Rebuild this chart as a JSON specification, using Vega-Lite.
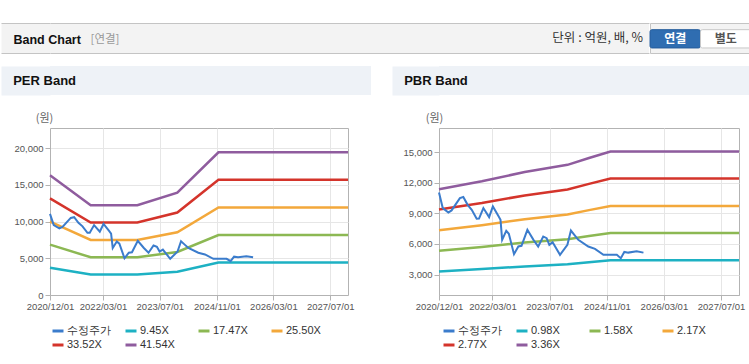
{
  "$schema": "https://vega.github.io/schema/vega-lite/v6.json",
  "background": "#ffffff",
  "padding": {"left": 0, "top": 22, "right": 0, "bottom": 0},
  "config": {
    "view": {"stroke": null},
    "font": "Liberation Sans",
    "axis": {"labelFont": "Liberation Sans", "titleFont": "Noto Sans CJK KR"},
    "legend": {"labelFont": "Liberation Sans"}
  },
  "datasets": {
    "price": [
      {"date": "2020-12-01", "series": "수정주가", "value": 11040},
      {"date": "2021-01-02", "series": "수정주가", "value": 9510},
      {"date": "2021-02-19", "series": "수정주가", "value": 9080},
      {"date": "2021-03-18", "series": "수정주가", "value": 9280},
      {"date": "2021-05-28", "series": "수정주가", "value": 10490},
      {"date": "2021-06-26", "series": "수정주가", "value": 10590},
      {"date": "2021-08-02", "series": "수정주가", "value": 9830},
      {"date": "2021-09-06", "series": "수정주가", "value": 9345},
      {"date": "2021-10-18", "series": "수정주가", "value": 8460},
      {"date": "2021-11-07", "series": "수정주가", "value": 8480},
      {"date": "2021-12-14", "series": "수정주가", "value": 9510},
      {"date": "2022-02-01", "series": "수정주가", "value": 8625},
      {"date": "2022-03-05", "series": "수정주가", "value": 9670},
      {"date": "2022-04-20", "series": "수정주가", "value": 8755},
      {"date": "2022-05-09", "series": "수정주가", "value": 8360},
      {"date": "2022-05-23", "series": "수정주가", "value": 6400},
      {"date": "2022-06-27", "series": "수정주가", "value": 7280},
      {"date": "2022-07-19", "series": "수정주가", "value": 6990},
      {"date": "2022-09-01", "series": "수정주가", "value": 5000},
      {"date": "2022-10-08", "series": "수정주가", "value": 5750},
      {"date": "2022-11-04", "series": "수정주가", "value": 5815},
      {"date": "2022-12-24", "series": "수정주가", "value": 7380},
      {"date": "2023-02-14", "series": "수정주가", "value": 6400},
      {"date": "2023-03-26", "series": "수정주가", "value": 5750},
      {"date": "2023-05-08", "series": "수정주가", "value": 6730},
      {"date": "2023-06-06", "series": "수정주가", "value": 6560},
      {"date": "2023-06-29", "series": "수정주가", "value": 5910},
      {"date": "2023-07-27", "series": "수정주가", "value": 6170},
      {"date": "2023-09-28", "series": "수정주가", "value": 4930},
      {"date": "2023-11-30", "series": "수정주가", "value": 5910},
      {"date": "2023-12-30", "series": "수정주가", "value": 7310},
      {"date": "2024-01-28", "series": "수정주가", "value": 6890},
      {"date": "2024-03-02", "series": "수정주가", "value": 6400},
      {"date": "2024-05-26", "series": "수정주가", "value": 5750},
      {"date": "2024-07-22", "series": "수정주가", "value": 5520},
      {"date": "2024-10-02", "series": "수정주가", "value": 4930},
      {"date": "2025-01-24", "series": "수정주가", "value": 4930},
      {"date": "2025-02-27", "series": "수정주가", "value": 4600},
      {"date": "2025-03-29", "series": "수정주가", "value": 5220},
      {"date": "2025-05-02", "series": "수정주가", "value": 5150},
      {"date": "2025-07-12", "series": "수정주가", "value": 5280},
      {"date": "2025-09-08", "series": "수정주가", "value": 5150}
    ],
    "perBands": [
      {"date": "2020-12-01", "series": "9.45X", "value": 3704},
      {"date": "2021-11-15", "series": "9.45X", "value": 2778},
      {"date": "2022-12-20", "series": "9.45X", "value": 2778},
      {"date": "2023-11-28", "series": "9.45X", "value": 3166},
      {"date": "2024-11-15", "series": "9.45X", "value": 4418},
      {"date": "2027-12-01", "series": "9.45X", "value": 4418},
      {"date": "2020-12-01", "series": "17.47X", "value": 6848},
      {"date": "2021-11-15", "series": "17.47X", "value": 5136},
      {"date": "2022-12-20", "series": "17.47X", "value": 5136},
      {"date": "2023-11-28", "series": "17.47X", "value": 5852},
      {"date": "2024-11-15", "series": "17.47X", "value": 8167},
      {"date": "2027-12-01", "series": "17.47X", "value": 8167},
      {"date": "2020-12-01", "series": "25.50X", "value": 9996},
      {"date": "2021-11-15", "series": "25.50X", "value": 7497},
      {"date": "2022-12-20", "series": "25.50X", "value": 7497},
      {"date": "2023-11-28", "series": "25.50X", "value": 8543},
      {"date": "2024-11-15", "series": "25.50X", "value": 11921},
      {"date": "2027-12-01", "series": "25.50X", "value": 11921},
      {"date": "2020-12-01", "series": "33.52X", "value": 13140},
      {"date": "2021-11-15", "series": "33.52X", "value": 9855},
      {"date": "2022-12-20", "series": "33.52X", "value": 9855},
      {"date": "2023-11-28", "series": "33.52X", "value": 11229},
      {"date": "2024-11-15", "series": "33.52X", "value": 15671},
      {"date": "2027-12-01", "series": "33.52X", "value": 15671},
      {"date": "2020-12-01", "series": "41.54X", "value": 16284},
      {"date": "2021-11-15", "series": "41.54X", "value": 12213},
      {"date": "2022-12-20", "series": "41.54X", "value": 12213},
      {"date": "2023-11-28", "series": "41.54X", "value": 13916},
      {"date": "2024-11-15", "series": "41.54X", "value": 19420},
      {"date": "2027-12-01", "series": "41.54X", "value": 19420}
    ],
    "pbrBands": [
      {"date": "2020-12-01", "series": "0.98X", "value": 3312},
      {"date": "2021-12-01", "series": "0.98X", "value": 3540},
      {"date": "2022-12-01", "series": "0.98X", "value": 3802},
      {"date": "2023-12-01", "series": "0.98X", "value": 4008},
      {"date": "2024-06-01", "series": "0.98X", "value": 4204},
      {"date": "2024-12-01", "series": "0.98X", "value": 4390},
      {"date": "2027-12-01", "series": "0.98X", "value": 4390},
      {"date": "2020-12-01", "series": "1.58X", "value": 5340},
      {"date": "2021-12-01", "series": "1.58X", "value": 5707},
      {"date": "2022-12-01", "series": "1.58X", "value": 6130},
      {"date": "2023-12-01", "series": "1.58X", "value": 6462},
      {"date": "2024-06-01", "series": "1.58X", "value": 6778},
      {"date": "2024-12-01", "series": "1.58X", "value": 7078},
      {"date": "2027-12-01", "series": "1.58X", "value": 7078},
      {"date": "2020-12-01", "series": "2.17X", "value": 7335},
      {"date": "2021-12-01", "series": "2.17X", "value": 7838},
      {"date": "2022-12-01", "series": "2.17X", "value": 8420},
      {"date": "2023-12-01", "series": "2.17X", "value": 8875},
      {"date": "2024-06-01", "series": "2.17X", "value": 9309},
      {"date": "2024-12-01", "series": "2.17X", "value": 9722},
      {"date": "2027-12-01", "series": "2.17X", "value": 9722},
      {"date": "2020-12-01", "series": "2.77X", "value": 9363},
      {"date": "2021-12-01", "series": "2.77X", "value": 10005},
      {"date": "2022-12-01", "series": "2.77X", "value": 10748},
      {"date": "2023-12-01", "series": "2.77X", "value": 11329},
      {"date": "2024-06-01", "series": "2.77X", "value": 11883},
      {"date": "2024-12-01", "series": "2.77X", "value": 12410},
      {"date": "2027-12-01", "series": "2.77X", "value": 12410},
      {"date": "2020-12-01", "series": "3.36X", "value": 11357},
      {"date": "2021-12-01", "series": "3.36X", "value": 12136},
      {"date": "2022-12-01", "series": "3.36X", "value": 13037},
      {"date": "2023-12-01", "series": "3.36X", "value": 13742},
      {"date": "2024-06-01", "series": "3.36X", "value": 14414},
      {"date": "2024-12-01", "series": "3.36X", "value": 15053},
      {"date": "2027-12-01", "series": "3.36X", "value": 15053}
    ]
  },
  "resolve": {"scale": {"color": "independent", "x": "independent", "y": "independent"}, "legend": {"color": "independent"}},
  "spacing": 12,
  "vconcat": [
    {
      "spacing": 0,
      "resolve": {"scale": {"color": "independent", "x": "independent", "y": "independent"}},
      "hconcat": [
        {
          "width": 599,
          "height": 30,
          "view": {"fill": "#f3f3f3", "stroke": null},
          "data": {"values": [{"unit": "단위 : 억원, 배, %"}]},
          "resolve": {"scale": {"y": "independent"}, "axis": {"y": "independent"}},
          "encoding": {
            "x": {"datum": 1, "type": "quantitative", "scale": {"domain": [0, 1], "nice": false, "zero": false}, "axis": null}
          },
          "layer": [
            {
              "mark": {"type": "text", "align": "right", "dx": -6, "fontSize": 12.5, "color": "#333333", "font": "Noto Sans CJK KR"},
              "encoding": {
                "text": {"field": "unit"},
                "y": {"datum": "a", "type": "nominal", "axis": {"orient": "left", "offset": 24.5, "minExtent": 24.5, "maxExtent": 24.5, "domain": true, "domainColor": "#f3f3f3", "domainWidth": 49, "domainCap": "butt", "ticks": false, "labels": false, "grid": false,
                  "title": "Band Chart", "titleAngle": 0, "titleX": -12.5, "titleY": 16, "titleAlign": "left", "titleBaseline": "middle", "titleFont": "Liberation Sans", "titleFontSize": 12.5, "titleFontWeight": "bold", "titleColor": "#111111"}}
              }
            },
            {
              "mark": {"type": "text", "opacity": 0},
              "encoding": {
                "text": {"value": ""},
                "y": {"datum": "b", "type": "nominal", "scale": {"type": "band", "paddingInner": 0, "paddingOuter": 0}, "axis": {"orient": "left", "minExtent": 49, "maxExtent": 49, "domain": false, "ticks": true, "tickBand": "extent", "tickSize": 49, "tickColor": "#c4c4c4", "tickWidth": 1, "labels": false, "grid": true, "gridColor": "#c4c4c4", "gridWidth": 1,
                  "title": "[연결]", "titleAngle": 0, "titleX": 40, "titleY": 16, "titleAlign": "left", "titleBaseline": "middle", "titleFont": "Noto Sans CJK KR", "titleFontSize": 11.5, "titleFontWeight": "normal", "titleColor": "#999999"}}
              }
            }
          ]
        },
        {
          "width": 101,
          "height": 30,
          "view": {"fill": "#f3f3f3", "stroke": "#c4c4c4"},
          "data": {"values": [{"btn": "연결", "state": "on"}, {"btn": "별도", "state": "off"}]},
          "encoding": {
            "x": {"field": "btn", "type": "nominal", "sort": null, "scale": {"domain": ["연결", "별도"], "paddingInner": 0, "paddingOuter": 0}, "axis": null},
            "y": {"datum": "toggle", "type": "nominal", "scale": {"paddingInner": 0, "paddingOuter": 0.32, "align": 0.57}, "axis": null}
          },
          "layer": [
            {
              "mark": {"type": "rect", "cornerRadius": 2, "strokeWidth": 1},
              "encoding": {
                "fill": {"field": "state", "type": "nominal", "scale": {"domain": ["on", "off"], "range": ["#2f6db1", "#ffffff"]}, "legend": null},
                "stroke": {"field": "state", "type": "nominal", "scale": {"domain": ["on", "off"], "range": ["#265d9c", "#c8c8c8"]}, "legend": null}
              }
            },
            {
              "mark": {"type": "text", "fontSize": 12, "fontWeight": "bold", "font": "Noto Sans CJK KR"},
              "encoding": {
                "text": {"field": "btn"},
                "color": {"field": "state", "type": "nominal", "scale": {"domain": ["on", "off"], "range": ["#ffffff", "#555555"]}, "legend": null}
              }
            }
          ]
        }
      ]
    },
    {
      "spacing": 20,
      "resolve": {"scale": {"color": "independent", "x": "independent", "y": "independent"}, "legend": {"color": "independent"}},
      "hconcat": [
        {
          "spacing": 16,
          "resolve": {"scale": {"color": "independent", "y": "independent"}, "legend": {"color": "independent"}},
          "vconcat": [
            {
              "width": 321,
              "height": 29,
              "view": {"fill": "#eef2f7", "stroke": null},
              "data": {"values": [{"k": "s"}]},
              "mark": {"type": "text", "opacity": 0},
              "encoding": {
                "text": {"value": ""},
                "y": {"field": "k", "type": "nominal", "axis": {"orient": "left", "offset": 24.5, "minExtent": 24.5, "maxExtent": 24.5, "domain": true, "domainColor": "#eef2f7", "domainWidth": 49, "domainCap": "butt", "ticks": false, "labels": false, "grid": false,
                  "title": "PER Band", "titleAngle": 0, "titleX": -12.8, "titleY": 14.5, "titleAlign": "left", "titleBaseline": "middle", "titleFont": "Liberation Sans", "titleFontSize": 13, "titleFontWeight": "bold", "titleColor": "#111111"}}
              }
            },
            {
              "width": 298,
              "height": 167,
              "view": {"fill": "#ffffff", "stroke": "#b3b3b3"},
              "encoding": {
                "x": {"field": "date", "type": "temporal",
                  "scale": {"type": "utc", "nice": false, "domain": [{"year": 2020, "month": 12, "date": 1, "utc": true}, {"year": 2027, "month": 12, "date": 1, "utc": true}]},
                  "axis": {"title": null, "format": "%Y/%m/%d", "grid": true, "gridColor": "#e6e6e6", "domainColor": "#b3b3b3", "tickColor": "#b3b3b3", "tickSize": 5, "labelPadding": 1, "labelFontSize": 9.5, "labelColor": "#555555", "labelOverlap": false, "labelFlush": false,
                    "values": [{"year": 2020, "month": 12, "date": 1, "utc": true}, {"year": 2022, "month": 3, "date": 1, "utc": true}, {"year": 2023, "month": 7, "date": 1, "utc": true}, {"year": 2024, "month": 11, "date": 1, "utc": true}, {"year": 2026, "month": 3, "date": 1, "utc": true}, {"year": 2027, "month": 7, "date": 1, "utc": true}]}},
                "y": {"field": "value", "type": "quantitative",
                  "scale": {"domain": [0, 22727], "nice": false},
                  "axis": {"values": [0, 5000, 10000, 15000, 20000], "format": ",d", "grid": true, "gridColor": "#e6e6e6", "domainColor": "#b3b3b3", "tickColor": "#b3b3b3", "tickSize": 5, "labelPadding": 2, "labelFontSize": 9.5, "labelColor": "#555555", "minExtent": 49, "maxExtent": 49,
                    "title": "(원)", "titleAngle": 0, "titleX": -6, "titleY": -10, "titleAlign": "center", "titleBaseline": "middle", "titleFontSize": 11, "titleFontWeight": "normal", "titleColor": "#666666"}},
                "color": {"field": "series", "type": "nominal",
                  "scale": {"domain": ["수정주가", "9.45X", "17.47X", "25.50X", "33.52X", "41.54X"], "range": ["#3b7ccc", "#1db1c3", "#8cb853", "#f3a83b", "#d4342b", "#8f5c9e"]},
                  "legend": {"title": null, "orient": "none", "legendX": 1, "legendY": 196, "direction": "horizontal", "columns": 4, "gridAlign": "all", "columnPadding": 8, "rowPadding": 1, "padding": 0, "symbolType": "stroke", "symbolSize": 121, "symbolStrokeWidth": 3, "labelFontSize": 11, "labelColor": "#333333", "labelOffset": 2}}
              },
              "layer": [
                {"data": {"name": "perBands"}, "mark": {"type": "line", "strokeWidth": 2.5}},
                {"data": {"name": "price"}, "mark": {"type": "line", "strokeWidth": 2}}
              ]
            }
          ]
        },
        {
          "spacing": 16,
          "resolve": {"scale": {"color": "independent", "y": "independent"}, "legend": {"color": "independent"}},
          "vconcat": [
            {
              "width": 312,
              "height": 29,
              "view": {"fill": "#eef2f7", "stroke": null},
              "data": {"values": [{"k": "s"}]},
              "mark": {"type": "text", "opacity": 0},
              "encoding": {
                "text": {"value": ""},
                "y": {"field": "k", "type": "nominal", "axis": {"orient": "left", "offset": 23.5, "minExtent": 23.5, "maxExtent": 23.5, "domain": true, "domainColor": "#eef2f7", "domainWidth": 47, "domainCap": "butt", "ticks": false, "labels": false, "grid": false,
                  "title": "PBR Band", "titleAngle": 0, "titleX": -11.8, "titleY": 14.5, "titleAlign": "left", "titleBaseline": "middle", "titleFont": "Liberation Sans", "titleFontSize": 13, "titleFontWeight": "bold", "titleColor": "#111111"}}
              }
            },
            {
              "width": 300,
              "height": 167,
              "view": {"fill": "#ffffff", "stroke": "#b3b3b3"},
              "encoding": {
                "x": {"field": "date", "type": "temporal",
                  "scale": {"type": "utc", "nice": false, "domain": [{"year": 2020, "month": 12, "date": 1, "utc": true}, {"year": 2027, "month": 12, "date": 1, "utc": true}]},
                  "axis": {"title": null, "format": "%Y/%m/%d", "grid": true, "gridColor": "#e6e6e6", "domainColor": "#b3b3b3", "tickColor": "#b3b3b3", "tickSize": 5, "labelPadding": 1, "labelFontSize": 9.5, "labelColor": "#555555", "labelOverlap": false, "labelFlush": false,
                    "values": [{"year": 2020, "month": 12, "date": 1, "utc": true}, {"year": 2022, "month": 3, "date": 1, "utc": true}, {"year": 2023, "month": 7, "date": 1, "utc": true}, {"year": 2024, "month": 11, "date": 1, "utc": true}, {"year": 2026, "month": 3, "date": 1, "utc": true}, {"year": 2027, "month": 7, "date": 1, "utc": true}]}},
                "y": {"field": "value", "type": "quantitative",
                  "scale": {"domain": [1000, 17350], "nice": false},
                  "axis": {"values": [3000, 6000, 9000, 12000, 15000], "format": ",d", "grid": true, "gridColor": "#e6e6e6", "domainColor": "#b3b3b3", "tickColor": "#b3b3b3", "tickSize": 5, "labelPadding": 2, "labelFontSize": 9.5, "labelColor": "#555555", "minExtent": 47, "maxExtent": 47,
                    "title": "(원)", "titleAngle": 0, "titleX": -5, "titleY": -10, "titleAlign": "center", "titleBaseline": "middle", "titleFontSize": 11, "titleFontWeight": "normal", "titleColor": "#666666"}},
                "color": {"field": "series", "type": "nominal",
                  "scale": {"domain": ["수정주가", "0.98X", "1.58X", "2.17X", "2.77X", "3.36X"], "range": ["#3b7ccc", "#1db1c3", "#8cb853", "#f3a83b", "#d4342b", "#8f5c9e"]},
                  "legend": {"title": null, "orient": "none", "legendX": 3, "legendY": 196, "direction": "horizontal", "columns": 4, "gridAlign": "all", "columnPadding": 8, "rowPadding": 1, "padding": 0, "symbolType": "stroke", "symbolSize": 121, "symbolStrokeWidth": 3, "labelFontSize": 11, "labelColor": "#333333", "labelOffset": 2}}
              },
              "layer": [
                {"data": {"name": "pbrBands"}, "mark": {"type": "line", "strokeWidth": 2.5}},
                {"data": {"name": "price"}, "mark": {"type": "line", "strokeWidth": 2}}
              ]
            }
          ]
        }
      ]
    }
  ]
}
